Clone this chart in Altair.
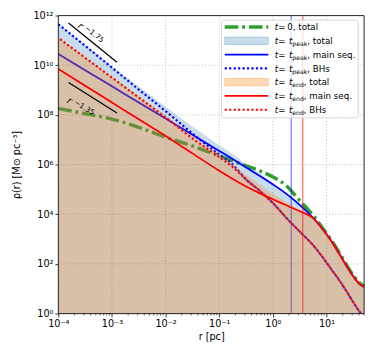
import altair as alt
import pandas as pd

# ---------------- data ----------------
r_pc = [1e-4, 3.16e-4, 1e-3, 3.16e-3, 1e-2, 3.16e-2, 0.1, 0.178, 0.316, 0.562,
        1.0, 1.78, 3.16, 5.62, 10.0, 12.6, 17.8, 25.1, 31.6, 39.8, 50.0]
# log10 of density [Msun pc^-3]
log_rho_t0_total   = [8.26, 8.05, 7.83, 7.50, 7.10, 6.75, 6.35, 6.15, 5.95, 5.75, 5.50, 5.15, 4.55, 3.95, 3.22, 2.92, 2.40, 1.86, 1.53, 1.26, 1.11]
log_rho_peak_total = [11.68, 10.82, 9.97, 9.14, 8.33, 7.53, 6.78, 6.43, 6.00, 5.65, 5.27, 4.86, 4.42, 3.88, 3.25, 2.95, 2.43, 1.89, 1.56, 1.29, 1.13]
log_rho_peak_ms    = [10.45, 9.80, 9.15, 8.50, 7.85, 7.20, 6.55, 6.22, 5.88, 5.55, 5.20, 4.82, 4.38, 3.85, 3.19, 2.88, 2.36, 1.82, 1.49, 1.22, 1.07]
log_rho_peak_bh    = [11.65, 10.78, 9.90, 9.02, 8.15, 7.25, 6.40, 6.00, 5.40, 4.95, 4.45, 3.85, 3.30, 2.75, 2.05, 1.75, 1.30, 0.80, 0.45, 0.12, -0.15]
log_rho_end_total  = [11.12, 10.33, 9.54, 8.75, 7.97, 7.15, 6.41, 6.02, 5.58, 5.20, 4.83, 4.48, 4.18, 3.88, 3.25, 2.95, 2.43, 1.89, 1.56, 1.29, 1.13]
log_rho_end_ms     = [9.85, 9.17, 8.50, 7.82, 7.15, 6.45, 5.75, 5.42, 5.12, 4.85, 4.60, 4.36, 4.12, 3.84, 3.19, 2.88, 2.36, 1.82, 1.49, 1.22, 1.07]
log_rho_end_bh     = [11.10, 10.30, 9.50, 8.70, 7.90, 7.05, 6.30, 5.90, 5.40, 4.95, 4.45, 3.85, 3.30, 2.75, 2.05, 1.75, 1.30, 0.80, 0.45, 0.12, -0.15]

r_peak_pc = [2.2]   # vertical marker, t = t_peak
r_end_pc = [3.6]    # vertical marker, t = t_end

guide_r = [1.55e-4, 1.24e-3]
guide_rho_175 = [5.0e11, 1.32e10]
guide_rho_135 = [2.0e9, 1.2e8]

x_major = [1e-4, 1e-3, 1e-2, 1e-1, 1.0, 10.0]
y_major = [1.0, 1e2, 1e4, 1e6, 1e8, 1e10, 1e12]
x_labels = ["10⁻⁴", "10⁻³", "10⁻²", "10⁻¹", "10⁰", "10¹"]
y_labels = ["10⁰", "10¹", "10²", "10³", "10⁴", "10⁵", "10⁶", "10⁷", "10⁸", "10⁹", "10¹⁰", "10¹¹", "10¹²"]

# ---------------- layout / style ----------------
W, H = 316, 308
FONT = "DejaVu Sans"

def curve(vals):
    return pd.DataFrame({"r": r_pc, "rho": [10 ** v for v in vals]})

xs = alt.Scale(type="log", domain=[1e-4, 50])
ys = alt.Scale(type="log", domain=[1, 1e12])

x_expr = "[" + ",".join("'%s'" % s for s in x_labels) + "][round(log(datum.value)/LN10)+4]"
y_expr = "[" + ",".join("'%s'" % s for s in y_labels) + "][round(log(datum.value)/LN10)]"

xaxis = alt.Axis(values=x_major, labelExpr=x_expr, grid=False, domain=False,
                 tickSize=3.5, tickWidth=0.8, tickColor="black",
                 labelFontSize=10, labelColor="black", labelPadding=2,
                 labelFlush=False, labelOverlap=False,
                 title="r [pc]", titleFontSize=10, titleFontWeight="normal",
                 titleColor="black", titlePadding=3)
yaxis = alt.Axis(values=y_major, labelExpr=y_expr, grid=False, domain=False,
                 tickSize=3.5, tickWidth=0.8, tickColor="black",
                 labelFontSize=10, labelColor="black", labelPadding=2,
                 labelFlush=False, labelOverlap=False,
                 title="ρ(r) [M⊙ pc⁻³]", titleFontSize=10, titleFontWeight="normal",
                 titleColor="black", titlePadding=12)

def X(field="r"):
    return alt.X(f"{field}:Q", scale=xs, axis=xaxis)

def Y(field="rho"):
    return alt.Y(f"{field}:Q", scale=ys, axis=yaxis)

one = pd.DataFrame({"k": [0]})
layers = []

# grid (dotted)
layers.append(alt.Chart(pd.DataFrame({"r": x_major})).mark_rule(
    color="#b8b8b8", strokeWidth=0.8, strokeDash=[1.2, 2]).encode(x=X()))
layers.append(alt.Chart(pd.DataFrame({"rho": y_major[1:-1]})).mark_rule(
    color="#b8b8b8", strokeWidth=0.8, strokeDash=[1.2, 2]).encode(y=Y()))

# t = 0 total (green dash-dot)
layers.append(alt.Chart(curve(log_rho_t0_total)).mark_line(
    color="#2ca02c", strokeWidth=3.5, strokeDash=[14, 4, 3, 4], interpolate="monotone"
).encode(x=X(), y=Y()))

# t_peak total (blue fill)
layers.append(alt.Chart(curve(log_rho_peak_total)).mark_area(
    color="#1f77b4", opacity=0.25, interpolate="monotone"
).encode(x=X(), y=Y(), y2=alt.datum(1)))
# t_peak main seq
layers.append(alt.Chart(curve(log_rho_peak_ms)).mark_line(
    color="blue", strokeWidth=1.8, interpolate="monotone", clip=True
).encode(x=X(), y=Y()))
# t_peak BHs
layers.append(alt.Chart(curve(log_rho_peak_bh)).mark_line(
    color="blue", strokeWidth=2.2, strokeDash=[2.2, 2.4], interpolate="monotone", clip=True
).encode(x=X(), y=Y()))
# t_peak marker
layers.append(alt.Chart(pd.DataFrame({"r": r_peak_pc})).mark_rule(
    color="blue", opacity=0.45, strokeWidth=1.5).encode(x=X()))

# t_end total (orange fill)
layers.append(alt.Chart(curve(log_rho_end_total)).mark_area(
    color="#ff7f0e", opacity=0.3, interpolate="monotone"
).encode(x=X(), y=Y(), y2=alt.datum(1)))
# t_end main seq
layers.append(alt.Chart(curve(log_rho_end_ms)).mark_line(
    color="red", strokeWidth=1.8, interpolate="monotone", clip=True
).encode(x=X(), y=Y()))
# t_end BHs
layers.append(alt.Chart(curve(log_rho_end_bh)).mark_line(
    color="red", strokeWidth=2.2, strokeDash=[2.2, 2.4], strokeDashOffset=2.3,
    interpolate="monotone", clip=True
).encode(x=X(), y=Y()))
# t_end marker
layers.append(alt.Chart(pd.DataFrame({"r": r_end_pc})).mark_rule(
    color="red", opacity=0.6, strokeWidth=1.2).encode(x=X()))

# power-law guides
for rho_vals, ang, r_dx, r_dy, s_dx, s_dy, lab in [
        (guide_rho_175, 39, 11.5, -5.4, 16.5, -7.5, "−1.75"),
        (guide_rho_135, 32, 10.8, 15.6, 16, 13.5, "−1.35")]:
    gdf = pd.DataFrame({"r": guide_r, "rho": rho_vals})
    layers.append(alt.Chart(gdf).mark_line(color="black", strokeWidth=1.3).encode(x=X(), y=Y()))
    start = gdf.iloc[[0]]
    layers.append(alt.Chart(start).mark_text(
        text="r", font=FONT, fontStyle="italic", fontSize=10, angle=ang,
        dx=r_dx, dy=r_dy, align="center", baseline="middle", color="black"
    ).encode(x=X(), y=Y()))
    layers.append(alt.Chart(start).mark_text(
        text=lab, font=FONT, fontSize=7.5, angle=ang,
        dx=s_dx, dy=s_dy, align="left", baseline="middle", color="black"
    ).encode(x=X(), y=Y()))

# minor x ticks
x_minor = [m * 10 ** k for k in range(-4, 2) for m in range(2, 10) if m * 10 ** k <= 50]
layers.append(alt.Chart(pd.DataFrame({"r": x_minor})).mark_rule(
    color="black", strokeWidth=0.6).encode(x=X(), y=alt.value(H), y2=alt.value(H + 2)))

# frame
layers.append(alt.Chart(one).mark_rect(
    fillOpacity=0, stroke="black", strokeWidth=0.8
).encode(x=alt.value(0), x2=alt.value(W), y=alt.value(0), y2=alt.value(H)))

# ---------------- legend (drawn by hand) ----------------
LX0, LY0, LX1, LY1 = 168.7, 4.7, 310.0, 105.7
layers.append(alt.Chart(one).mark_rect(
    fill="white", fillOpacity=0.8, stroke="#cccccc", strokeWidth=0.8, cornerRadius=2
).encode(x=alt.value(LX0), x2=alt.value(LX1), y=alt.value(LY0), y2=alt.value(LY1)))

SX0, SX1 = 172.0, 217.0
TX = 223.7
FS, FSUB = 9.0, 6.3
W_T = 0.392 * FS
W_EQ = (0.2 + 0.838 + 0.2) * FS
W_SUB = {"peak": (0.635 + 0.615 + 0.613 + 0.579) * FSUB,
         "end": (0.615 + 0.634 + 0.635) * FSUB}

entries = [
    (None, ", total", ("line", "#2ca02c", 3.5, [14, 4, 3, 4], 1.0)),
    ("peak", ", total", ("patch", "#1f77b4", 0.25)),
    ("peak", ", main seq.", ("line", "blue", 1.8, None, 1.0)),
    ("peak", ", BHs", ("line", "blue", 2.2, [2.2, 2.4], 1.0)),
    ("end", ", total", ("patch", "#ff7f0e", 0.3)),
    ("end", ", main seq.", ("line", "red", 1.8, None, 1.0)),
    ("end", ", BHs", ("line", "red", 2.2, [2.2, 2.4], 1.0)),
]

def txt(text, x, y, size=FS, italic=False):
    kw = dict(text=text, font=FONT, fontSize=size, align="left", baseline="alphabetic", color="black")
    if italic:
        kw["fontStyle"] = "italic"
    return alt.Chart(one).mark_text(**kw).encode(x=alt.value(x), y=alt.value(y))

for i, (sub, suffix, sym) in enumerate(entries):
    yy = 11.8 + i * 14.25
    if sym[0] == "line":
        _, col, sw, dash, op = sym
        kw = dict(color=col, strokeWidth=sw, opacity=op)
        if dash:
            kw["strokeDash"] = dash
        layers.append(alt.Chart(one).mark_rule(**kw).encode(
            x=alt.value(SX0), x2=alt.value(SX1), y=alt.value(yy)))
    else:
        _, col, op = sym
        layers.append(alt.Chart(one).mark_rect(
            fill=col, fillOpacity=op, stroke=col, strokeOpacity=op + 0.1, strokeWidth=0.8
        ).encode(x=alt.value(SX0), x2=alt.value(SX1), y=alt.value(yy - 3.8), y2=alt.value(yy + 3.8)))
    yb = yy + 3.3
    layers.append(txt("t", TX, yb, italic=True))
    if sub is None:
        layers.append(txt("\u2009=\u20090" + suffix, TX + W_T, yb))
    else:
        layers.append(txt("\u2009=\u2009", TX + W_T, yb))
        layers.append(txt("t", TX + W_T + W_EQ, yb, italic=True))
        layers.append(txt(sub, TX + 2 * W_T + W_EQ, yb + 2.2, size=FSUB))
        layers.append(txt(suffix, TX + 2 * W_T + W_EQ + W_SUB[sub], yb))

chart = alt.layer(*layers).properties(
    width=W, height=H,
    padding={"left": 52, "top": 2, "right": 2, "bottom": 36},
    autosize=alt.AutoSizeParams(type="none"),
).configure_view(stroke=None).configure(font=FONT)

chart.save("out.html", embed_options={"renderer": "svg", "actions": False})
